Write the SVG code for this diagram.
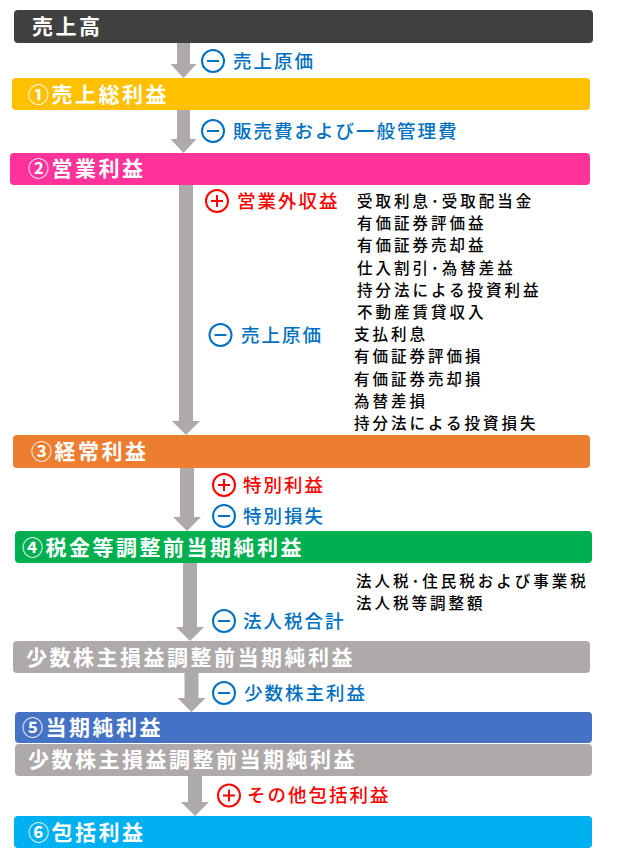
<svg xmlns="http://www.w3.org/2000/svg" width="640" height="853" viewBox="0 0 640 853">
<style>
.bar-t{font-family:"Noto Sans CJK JP","Noto Sans",sans-serif;font-weight:bold;font-size:21px;letter-spacing:2.5px;fill:#ffffff}
.lbl{font-family:"Noto Sans CJK JP","Noto Sans",sans-serif;font-weight:500;font-size:18.5px;letter-spacing:2px}
.blue{fill:#0070C0}
.red{fill:#FF0000}
.item{font-family:"Noto Sans CJK JP","Noto Sans",sans-serif;font-weight:500;font-size:15.5px;letter-spacing:3px;fill:#000000}
.arrow{fill:#AEAAAA}
.cb{fill:#ffffff;stroke:#0070C0;stroke-width:2}
.cr{fill:#ffffff;stroke:#FF0000;stroke-width:2}
.lb{stroke:#0070C0;stroke-width:2}
.lr{stroke:#FF0000;stroke-width:2}
</style>
<g id="connectors">
<path class="arrow" d="M177,43 H190 V64 H196.5 L183.5,78 L170.5,64 H177 Z"/>
<path class="arrow" d="M177,110 H190 V139 H196.5 L183.5,153 L170.5,139 H177 Z"/>
<path class="arrow" d="M179,185 H193 V421 H200 L186,435 L172,421 H179 Z"/>
<path class="arrow" d="M180,468 H194 V517 H201 L187,531 L173,517 H180 Z"/>
<path class="arrow" d="M183,563 H197 V627 H204 L190,641 L176,627 H183 Z"/>
<path class="arrow" d="M184.5,673 H198.5 V698 H205.5 L191.5,712 L177.5,698 H184.5 Z"/>
<path class="arrow" d="M188,776 H202 V802 H209 L195,816 L181,802 H188 Z"/>
</g>
<g id="n0"><rect x="14" y="10" width="579" height="33" rx="4" fill="#404040"/><text class="bar-t" x="32" y="34">売上高</text></g>
<g id="n1"><rect x="12" y="78" width="578" height="32" rx="4" fill="#FFC000"/><text class="bar-t" x="28" y="101.5">①売上総利益</text></g>
<g id="n2"><rect x="10" y="153" width="580" height="32" rx="4" fill="#FF3399"/><text class="bar-t" x="28" y="176">②営業利益</text></g>
<g id="n3"><rect x="13" y="435" width="577" height="33" rx="4" fill="#ED7D31"/><text class="bar-t" x="31" y="459">③経常利益</text></g>
<g id="n4"><rect x="15" y="531" width="577" height="32" rx="4" fill="#00B050"/><text class="bar-t" x="22" y="554.5">④税金等調整前当期純利益</text></g>
<g id="n5"><rect x="13" y="641" width="577" height="32" rx="4" fill="#AEAAAA"/><text class="bar-t" x="26" y="664.5">少数株主損益調整前当期純利益</text></g>
<g id="n6"><rect x="15" y="712" width="577" height="31" rx="4" fill="#4472C4"/><text class="bar-t" x="22" y="735">⑤当期純利益</text></g>
<g id="n7"><rect x="15" y="744" width="577" height="32" rx="4" fill="#AEAAAA"/><text class="bar-t" x="28" y="767">少数株主損益調整前当期純利益</text></g>
<g id="n8"><rect x="14" y="816" width="578" height="32" rx="4" fill="#00B0F0"/><text class="bar-t" x="28" y="839.5">⑥包括利益</text></g>
<g id="labels">
<g><circle class="cb" cx="213" cy="61" r="11"/><line class="lb" x1="207" y1="61" x2="219" y2="61"/><text class="lbl blue" x="233" y="67.5">売上原価</text></g>
<g><circle class="cb" cx="213" cy="131" r="11"/><line class="lb" x1="207" y1="131" x2="219" y2="131"/><text class="lbl blue" x="233" y="137.5">販売費および一般管理費</text></g>
<g><circle class="cr" cx="217" cy="201" r="11"/><line class="lr" x1="211" y1="201" x2="223" y2="201"/><line class="lr" x1="217" y1="195" x2="217" y2="207"/><text class="lbl red" x="237" y="207.5">営業外収益</text></g>
<g><circle class="cb" cx="220.5" cy="335" r="11"/><line class="lb" x1="214.5" y1="335" x2="226.5" y2="335"/><text class="lbl blue" x="241" y="341.5">売上原価</text></g>
<g><circle class="cr" cx="224" cy="485" r="11"/><line class="lr" x1="218" y1="485" x2="230" y2="485"/><line class="lr" x1="224" y1="479" x2="224" y2="491"/><text class="lbl red" x="243" y="491.5">特別利益</text></g>
<g><circle class="cb" cx="224" cy="516" r="11"/><line class="lb" x1="218" y1="516" x2="230" y2="516"/><text class="lbl blue" x="243" y="522.5">特別損失</text></g>
<g><circle class="cb" cx="224" cy="621" r="11"/><line class="lb" x1="218" y1="621" x2="230" y2="621"/><text class="lbl blue" x="243" y="627.5">法人税合計</text></g>
<g><circle class="cb" cx="224" cy="693" r="11"/><line class="lb" x1="218" y1="693" x2="230" y2="693"/><text class="lbl blue" x="244" y="699.5">少数株主利益</text></g>
<g><circle class="cr" cx="229" cy="795.5" r="11"/><line class="lr" x1="223" y1="795.5" x2="235" y2="795.5"/><line class="lr" x1="229" y1="789.5" x2="229" y2="801.5"/><text class="lbl red" x="247" y="802">その他包括利益</text></g>
</g>
<g id="items">
<text class="item" x="357" y="207">受取利息･受取配当金</text>
<text class="item" x="357" y="229">有価証券評価益</text>
<text class="item" x="357" y="251">有価証券売却益</text>
<text class="item" x="357" y="273.5">仕入割引･為替差益</text>
<text class="item" x="357" y="295.5">持分法による投資利益</text>
<text class="item" x="357" y="317.5">不動産賃貸収入</text>
<text class="item" x="354" y="340">支払利息</text>
<text class="item" x="354" y="362">有価証券評価損</text>
<text class="item" x="354" y="384.5">有価証券売却損</text>
<text class="item" x="354" y="406.5">為替差損</text>
<text class="item" x="354" y="429">持分法による投資損失</text>
<text class="item" x="356" y="587">法人税･住民税および事業税</text>
<text class="item" x="356" y="609">法人税等調整額</text>
</g>
</svg>
